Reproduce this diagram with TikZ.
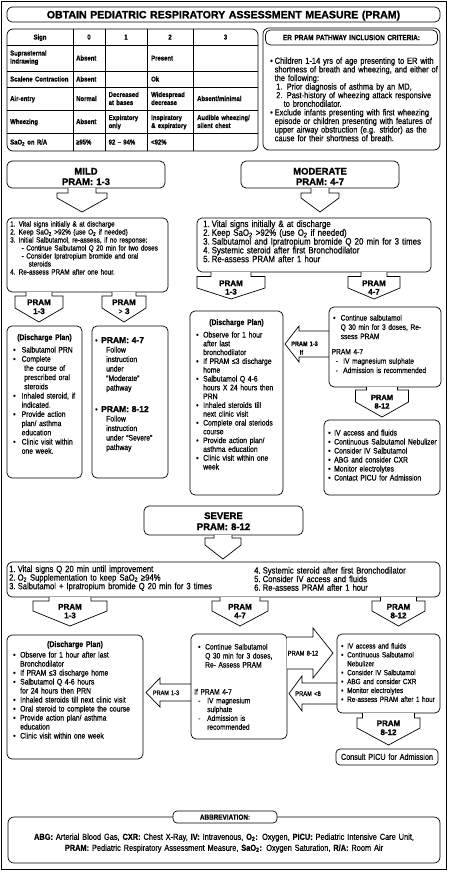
\documentclass[tikz,border=0pt]{standalone}
\usepackage{fontspec}
\setmainfont{Liberation Sans}[FakeStretch=0.85,FakeBold=0.5]
\newfontfamily\heavyfont{Liberation Sans}[FakeBold=1.3]
\newcommand\hv{\heavyfont\bfseries}
\newcommand\fs[2]{\fontsize{#1}{#2}\selectfont\lineskiplimit=-30pt\lineskip=0pt\relax}
\newlength\bw
\setlength\bw{7pt}
\newcommand\bu{\makebox[\bw][l]{•}}
\newcommand\ind{\hspace*{\bw}}
\newcommand\nb[1]{\makebox[8.5pt][l]{#1}}
\newcommand\sub[1]{\textsubscript{#1}}
% down block arrow: cx, ytop, shaft half, head half, y head, y side end, y tip
\newcommand\darr[7]{\draw[arw] ({#1-#3},#2) -- ({#1-#3},#5) -- ({#1-#4},#5) -- ({#1-#4},#6) -- (#1,#7) -- ({#1+#4},#6) -- ({#1+#4},#5) -- ({#1+#3},#5) -- ({#1+#3},#2);}
% horizontal block arrow: xtip, yc, x head back, head half, shaft half, x shaft end
\newcommand\harr[6]{\draw[arw] (#6,{#2-#5}) -- (#3,{#2-#5}) -- (#3,{#2-#4}) -- (#1,#2) -- (#3,{#2+#4}) -- (#3,{#2+#5}) -- (#6,{#2+#5});}
\begin{document}
\begin{tikzpicture}[x=1pt,y=-1pt,
  bx/.style={draw, line width=0.7pt, rounded corners=5pt},
  ln/.style={draw, line width=0.6pt},
  arw/.style={draw, line width=0.7pt, line join=miter, fill=white},
  tx/.style={anchor=base west, inner sep=0pt, align=left, text width=240pt},
  tc/.style={anchor=base, inner sep=0pt, align=center, text width=200pt}]
\useasboundingbox (0,0) rectangle (448,873);
\draw[line width=1.3pt] (1.5,1.5) rectangle (446.5,869.5);
% title
\draw[bx] (7,7) rectangle (440,22);
\node[tc, text width=440pt, font=\hv\fs{10.6}{12}] (title) at (223.5,18.3) {OBTAIN PEDIATRIC RESPIRATORY ASSESSMENT MEASURE (PRAM)};
% table
\draw[bx, rounded corners=6pt] (7,29) rectangle (258,151);
\foreach \x in {73,105,147,193} \draw[ln] (\x,29) -- (\x,151);
\foreach \y in {45,71,87,110,133} \draw[ln] (7,\y) -- (258,\y);
\begin{scope}[every node/.append style={font=\bfseries\fs{7}{8}}]
\node[tc] (h0) at (40,39.5) {Sign};
\node[tc] (h1) at (89,39.5) {0};
\node[tc] (h2) at (126,39.5) {1};
\node[tc] (h3) at (170,39.5) {2};
\node[tc] (h4) at (225.5,39.5) {3};
\node[tx] (r1a) at (10,55.5) {Suprasternal\\Indrawing};
\node[tx] (r1b) at (76,60.5) {Absent};
\node[tx] (r1c) at (151,60.5) {Present};
\node[tx] (r2a) at (10,81.5) {Scalene Contraction};
\node[tx] (r2b) at (76,81.5) {Absent};
\node[tx] (r2c) at (151,81.5) {Ok};
\node[tx] (r3a) at (10,101) {Air-entry};
\node[tx] (r3b) at (76,101) {Normal};
\node[tx] (r3c) at (108.5,97) {Decreased\\at bases};
\node[tx] (r3d) at (151,97) {Widespread\\decrease};
\node[tx] (r3e) at (197,101) {Absent/minimal};
\node[tx] (r4a) at (10,124) {Wheezing};
\node[tx] (r4b) at (76,124) {Absent};
\node[tx] (r4c) at (108.5,120) {Expiratory\\only};
\node[tx] (r4d) at (151,120) {Inspiratory\\\& expiratory};
\node[tx] (r4e) at (197,120) {Audible wheezing/\\silent chest};
\node[tx] (r5a) at (10,144.5) {SaO\sub2 on R/A};
\node[tx] (r5b) at (76,144.5) {≥95\%};
\node[tx] (r5c) at (108.5,144.5) {92 -- 94\%};
\node[tx] (r5d) at (151,144.5) {<92\%};
\end{scope}
% inclusion criteria
\draw[bx, rounded corners=6pt] (263,28) rectangle (440,150);
\draw[bx, rounded corners=5pt] (265.5,30) rectangle (437.5,45);
\node[tc, font=\bfseries\fs{7.6}{9}] (inch) at (351.5,40.2) {ER PRAM PATHWAY INCLUSION CRITERIA:};
\node[tx, font=\fs{8.75}{8.6}] (inc) at (270,63.8) {\setlength\bw{4.5pt}%
\bu Children 1-14 yrs of age presenting to ER with\\
\ind shortness of breath and wheezing, and either of\\
\ind the following:\\
\ind\hspace*{1.5pt}1. Prior diagnosis of asthma by an MD,\\
\ind\hspace*{1.5pt}2. Past-history of wheezing attack responsive\\
\ind\hspace*{9pt}to bronchodilator.\\
\bu Exclude infants presenting with first wheezing\\
\ind episode or children presenting with features of\\
\ind upper airway obstruction (e.g. stridor) as the\\
\ind cause for their shortness of breath.};
% MILD
\draw[bx] (7,161) rectangle (165,188);
\node[tc, font=\hv\fs{9.5}{10.5}] (mild) at (86,174.5) {MILD\\PRAM: 1-3};
\darr{82}{188}{14}{25}{193}{198}{212}
\draw[bx] (7,218) rectangle (168,292);
\node[tx, font=\fs{7.5}{8}] (mstep) at (10,226.5) {%
\nb{1.}Vital signs initially \& at discharge\\
\nb{2.}Keep SaO\sub2 >92\% (use O\sub2 if needed)\\
\nb{3.}Initial Salbutamol, re-assess, if no response:\\
\hspace*{11.5pt}- Continue Salbutamol Q 20 min for two doses\\
\hspace*{11.5pt}- Consider Ipratropium bromide and oral\\
\hspace*{18.5pt}steroids\\
\nb{4.}Re-assess PRAM after one hour.};
\darr{39}{292}{13}{24}{296}{308}{322}
\darr{124}{292}{12}{22}{296}{308}{322}
\node[tc, font=\hv\fs{8}{9}] (ma1) at (39,305) {PRAM\\1-3};
\node[tc, font=\hv\fs{8}{9}] (ma2) at (124,305) {PRAM\\{\normalfont\fs{8}{9}>} 3};
\draw[bx] (7,326) rectangle (82,478);
\node[tc, font=\bfseries\fs{8}{9}] (md1t) at (44.5,340) {(Discharge Plan)};
\node[tx, font=\fs{8}{9.2}] (md1) at (13,352.5) {\setlength\bw{8.5pt}%
\bu Salbutamol PRN\\
\bu Complete\\
\ind\hspace*{2.5pt}the course of\\
\ind\hspace*{2.5pt}prescribed oral\\
\ind\hspace*{2.5pt}steroids\\
\bu Inhaled steroid, if\\
\ind indicated.\\
\bu Provide action\\
\ind plan/ asthma\\
\ind education\\
\bu Clinic visit within\\
\ind one week.};
\draw[bx] (92,326) rectangle (168,478);
\node[tx, font=\fs{8}{9.5}] (md2a) at (95,343) {%
\makebox[6pt][l]{•}{\hv\fs{8.5}{9.5}PRAM: 4-7}\\
\hspace*{11pt}Follow\\
\hspace*{11pt}instruction\\
\hspace*{11pt}under\\
\hspace*{11pt}“Moderate”\\
\hspace*{11pt}pathway};
\node[tx, font=\fs{8}{9.5}] (md2b) at (95,412) {%
\makebox[6pt][l]{•}{\hv\fs{8.5}{9.5}PRAM: 8-12}\\
\hspace*{11pt}Follow\\
\hspace*{11pt}instruction\\
\hspace*{11pt}under “Severe”\\
\hspace*{11pt}pathway};
% MODERATE
\draw[bx] (241,161) rectangle (399,188);
\node[tc, font=\hv\fs{9.5}{10.5}] (mod) at (320,174.5) {MODERATE\\PRAM: 4-7};
\darr{320}{188}{9}{19}{193}{198}{212}
\draw[bx] (197,218) rectangle (431,272);
\node[tx, font=\fs{9.3}{8.8}] (mostep) at (203,227) {%
\nb{1.}Vital signs initially \& at discharge\\
\nb{2.}Keep SaO\sub2 >92\% (use O\sub2 if needed)\\
\nb{3.}Salbutamol and Ipratropium bromide Q 20 min for 3 times\\
\nb{4.}Systemic steroid after first Bronchodilator\\
\nb{5.}Re-assess PRAM after 1 hour};
\darr{231}{272}{20}{34}{276.5}{288}{299}
\darr{374}{272}{13}{26}{276.5}{288}{299}
\node[tc, font=\hv\fs{8}{8.5}] (moa1) at (231,286) {PRAM\\1-3};
\node[tc, font=\hv\fs{8}{8.5}] (moa2) at (374,286) {PRAM\\4-7};
\draw[bx] (190,311) rectangle (283,495);
\node[tc, font=\bfseries\fs{8}{9}] (modt) at (236.5,325) {(Discharge Plan)};
\node[tx, font=\fs{8}{8.8}] (modd) at (196,337.5) {%
\bu Observe for 1 hour\\
\ind after last\\
\ind bronchodilator\\
\bu If PRAM ≤3 discharge\\
\ind home\\
\bu Salbutamol Q 4-6\\
\ind hours X 24 hours then\\
\ind PRN\\
\bu Inhaled steroids till\\
\ind next clinic visit\\
\bu Complete oral steriods\\
\ind course\\
\bu Provide action plan/\\
\ind asthma education\\
\bu Clinic visit within one\\
\ind week};
\harr{285}{344}{299}{18}{13}{329}
\node[tc, font=\bfseries\fs{6.5}{8.5}] (mol1) at (304.5,346) {PRAM 1-3\\\hspace*{-6pt}If};
\draw[bx] (329,307) rectangle (441,387);
\node[tx, font=\fs{7.8}{9.3}] (moc) at (333,320.5) {\setlength\bw{7.5pt}%
\bu Continue salbutamol\\
\ind Q 30 min for 3 doses, Re-\\
\ind ssess PRAM\\[6pt]
\hspace*{-1.5pt}PRAM 4-7\\
\hspace*{2.5pt}\makebox[7.5pt][l]{-}IV magnesium sulphate\\
\hspace*{2.5pt}\makebox[7.5pt][l]{-}Admission is recommended};
\darr{382}{387}{15.5}{26.5}{390}{402}{417}
\node[tc, font=\hv\fs{7.5}{8.5}] (moa3) at (382,400) {PRAM\\8-12};
\draw[bx] (324,420) rectangle (440,495);
\node[tx, font=\fs{8}{9}] (moiv) at (328,435.5) {\setlength\bw{6pt}%
\bu IV access and fluids\\
\bu Continuous Salbutamol Nebulizer\\
\bu Consider IV Salbutamol\\
\bu ABG and consider CXR\\
\bu Monitor electrolytes\\
\bu Contact PICU for Admission};
% SEVERE
\draw[bx] (144,506) rectangle (303,535);
\node[tc, font=\hv\fs{9.5}{11}] (sev) at (223.5,519) {SEVERE\\PRAM: 8-12};
\darr{223}{535}{9}{18}{538}{545}{559}
\draw[bx] (7,562) rectangle (440,597);
\node[tx, font=\fs{9}{8.6}] (sst1) at (9,572) {%
\nb{1.}Vital signs Q 20 min until improvement\\
\nb{2.}O\sub2 Supplementation to keep SaO\sub2 ≥94\%\\
\nb{3.}Salbutamol + Ipratropium bromide Q 20 min for 3 times};
\node[tx, font=\fs{9}{8.6}] (sst2) at (254,573.5) {%
\nb{4.}Systemic steroid after first Bronchodilator\\
\nb{5.}Consider IV access and fluids\\
\nb{6.}Re-assess PRAM after 1 hour};
\darr{70}{597}{21}{37}{601}{611}{626}
\darr{240}{597}{20}{28}{601}{611}{626}
\darr{398.5}{597}{18}{26.5}{601}{611}{626}
\node[tc, font=\hv\fs{8}{8.7}] (sa1) at (70,609.5) {PRAM\\1-3};
\node[tc, font=\hv\fs{8}{8.7}] (sa2) at (240,609.5) {PRAM\\4-7};
\node[tc, font=\hv\fs{8}{8.7}] (sa3) at (398.5,609.5) {PRAM\\8-12};
\draw[bx] (7,635) rectangle (143,759);
\node[tc, font=\bfseries\fs{8.2}{9}] (sdt) at (75,647) {(Discharge Plan)};
\node[tx, font=\fs{8}{9}] (sd) at (13,657.5) {%
\bu Observe for 1 hour after last\\
\ind Bronchodilator\\
\bu If PRAM ≤3 discharge home\\
\bu Salbutamol Q 4-6 hours\\
\ind for 24 hours then PRN\\
\bu Inhaled steroids till next clinic visit\\
\bu Oral steroid to complete the course\\
\bu Provide action plan/ asthma\\
\ind education\\
\bu Clinic visit within one week};
\harr{146}{692.5}{160}{14.5}{8.5}{191}
\node[tc, font=\fs{6.5}{8}] (sl1) at (166,695) {PRAM 1-3};
\draw[bx] (191,634) rectangle (287,739);
\node[tx, font=\fs{7.8}{9}] (sc1) at (198,649.5) {%
\bu Continue Salbutamol\\
\ind Q 30 min for 3 doses,\\
\ind Re- Assess PRAM};
\node[tx, font=\fs{7.8}{8.8}] (sc2) at (194,694.5) {%
If PRAM 4-7\\
\hspace*{4pt}\makebox[9pt][l]{-}IV magnesium\\
\hspace*{13pt}sulphate\\
\hspace*{4pt}\makebox[9pt][l]{-}Admission is\\
\hspace*{13pt}recommended};
\harr{333}{653}{313}{25}{16}{287}
\node[tc, font=\fs{6.8}{8}] (sr1) at (303,655.5) {PRAM 8-12};
\harr{289}{693.5}{302}{17.5}{10.5}{337}
\node[tc, font=\fs{6.8}{8}] (sr2) at (308,696) {PRAM <8};
\draw[bx] (337,634) rectangle (440,713);
\node[tx, font=\fs{7.5}{8.9}] (siv) at (341,648.5) {\setlength\bw{6pt}%
\bu IV access and fluids\\
\bu Continuous Salbutamol\\
\ind Nebulizer\\
\bu Consider IV Salbutamol\\
\bu ABG and consider CXR\\
\bu Monitor electrolytes\\
\bu Re-assess PRAM after 1 hour};
\darr{388.5}{713}{26}{31.5}{718}{728}{745}
\node[tc, font=\hv\fs{8}{9}] (sa4) at (388.5,726) {PRAM\\8-12};
\draw[bx, rounded corners=4pt] (336,749) rectangle (438,765);
\node[tc, font=\fs{8.5}{9}] (picu) at (387,759.8) {Consult PICU for Admission};
% abbreviations
\draw[bx, rounded corners=6pt] (8,817) rectangle (440,863);
\draw[bx, rounded corners=4pt, fill=white] (173,811) rectangle (277,823);
\node[tc, font=\bfseries\fs{7.5}{9}] (abt) at (225,819.7) {ABBREVIATION:};
\node[tc, text width=430pt, font=\fs{8.7}{11}] (ab) at (224,839.8) {%
\textbf{ABG:} Arterial Blood Gas, \textbf{CXR:} Chest X-Ray, \textbf{IV:} Intravenous, \textbf{O\sub2:} Oxygen, \textbf{PICU:} Pediatric Intensive Care Unit,\\
\textbf{PRAM:} Pediatric Respiratory Assessment Measure, \textbf{SaO\sub2:} Oxygen Saturation, \textbf{R/A:} Room Air};
\end{tikzpicture}
\end{document}
